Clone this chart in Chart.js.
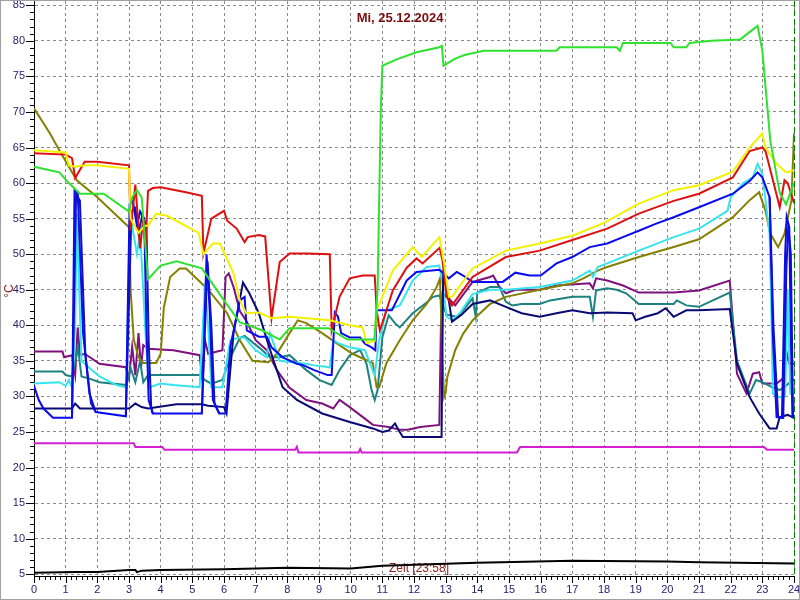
<!DOCTYPE html>
<html>
<head>
<meta charset="utf-8">
<script src="https://cdn.jsdelivr.net/npm/chart.js@4.4.1/dist/chart.umd.min.js"></script>
<style>
  body { margin: 0; background: #fff; }
  canvas { display: block; }
</style>
</head>
<body>
<canvas id="chart" width="800" height="600"></canvas>
<script>
// [hour, °C] pairs
const black = [[0,5.2],[1.3,5.3],[2,5.3],[3,5.6],[3.2,5.6],[3.25,5.3],[3.4,5.5],[4,5.6],[6,5.7],[8,5.9],[10,5.8],[11,6.2],[14,6.6],[17,6.9],[20,6.8],[21,6.7],[24,6.5]];
const magenta = [[0,23.4],[3.15,23.4],[3.2,22.9],[4.05,22.9],[4.12,22.5],[8.25,22.5],[8.3,22.9],[8.35,22.1],[10.25,22.1],[10.3,22.6],[10.35,22.1],[15.25,22.1],[15.35,22.9],[23.05,22.9],[23.15,22.5],[24,22.5]];
const green = [[0,62.3],[0.5,61.8],[0.8,61.5],[1.1,60],[1.45,58.5],[2.2,58.5],[3.0,56],[3.1,58],[3.25,59],[3.4,58],[3.6,46.5],[4.0,48.4],[4.5,49],[5.3,48],[6.0,43.5],[6.5,40.4],[6.65,40.2],[7.2,39.3],[7.76,38],[8.07,39.6],[9.3,39.6],[9.9,38],[10.75,38],[10.85,45],[10.95,70],[11.0,76.5],[11.45,77.4],[12.08,78.4],[12.8,79.1],[12.88,79.3],[12.93,76.5],[13.3,77.5],[13.6,78],[14.2,78.6],[16.5,78.6],[16.6,79.1],[18.4,79.1],[18.5,78.6],[18.6,79.7],[20.1,79.7],[20.2,79.1],[20.6,79.1],[20.7,79.7],[21.4,80],[22.3,80.2],[22.85,82.1],[23.0,78.6],[23.25,66],[23.55,58.6],[23.75,57],[24,60]];
const red = [[0,64.2],[1.0,64],[1.2,63.5],[1.3,60.7],[1.6,63],[2.0,63],[3.0,62.5],[3.05,53.3],[3.2,59.8],[3.35,50.8],[3.45,55],[3.52,51],[3.6,58.9],[3.75,59.3],[4.0,59.4],[4.8,58.7],[5.3,58.2],[5.35,50.1],[5.6,55],[6.0,56.1],[6.1,54.7],[6.4,53.6],[6.65,51.7],[6.75,52.4],[7.1,52.7],[7.3,52.5],[7.5,41],[7.76,48.9],[8.07,50.1],[8.6,50.1],[9.34,50],[9.4,39.3],[9.65,44],[9.97,46.6],[10.38,47],[10.76,47],[10.82,42.1],[10.92,39.3],[11.0,40.3],[11.33,44.9],[11.77,48.1],[12.08,49.4],[12.27,48.7],[12.81,50.9],[12.9,49.1],[13.03,44],[13.2,42.8],[13.85,46.8],[14.9,49.6],[15.97,50.5],[17.0,52],[18.1,53.6],[19.1,55.7],[20.2,57.5],[21.0,58.5],[22.07,60.8],[22.6,64.5],[23.0,65],[23.1,64.5],[23.55,56.6],[23.7,60.4],[23.8,60],[24,57.2]];
const yellow = [[0,64.6],[1.0,64.3],[1.1,62.5],[1.3,62.3],[1.6,62.5],[2.0,62.5],[3.0,62],[3.05,55],[3.3,53],[3.5,54],[3.6,54],[3.86,55.7],[4.2,55.4],[5.2,53],[5.35,50],[5.65,51.5],[5.87,51.5],[6.3,47.3],[6.5,43.5],[6.7,41.7],[7.1,41.8],[7.5,41],[8.07,41.2],[9.34,40.7],[9.97,40],[10.38,39.7],[10.5,37.5],[10.76,37.8],[10.82,42.1],[11.0,44],[11.33,47.7],[11.96,51],[12.25,49.6],[12.8,52.4],[12.95,48.7],[13.1,44],[13.2,44],[13.85,48],[14.9,50.5],[15.97,51.5],[17,52.6],[18,54.4],[19.1,57.1],[20.2,59],[21,59.7],[22.07,61.6],[22.6,65],[23.0,67],[23.1,65],[23.45,62.7],[23.75,61.5],[24,61.8]];
const blue = [[0,31.5],[0.15,29.5],[0.3,28.3],[0.6,27],[1.2,27],[1.28,59],[1.38,58.7],[1.55,38.9],[1.75,30.4],[1.95,27.8],[2.9,27.2],[3.02,57],[3.12,57.5],[3.25,54],[3.35,56],[3.48,55],[3.55,40],[3.62,29.5],[3.75,27.6],[5.3,27.6],[5.45,50],[5.55,42],[5.65,29.5],[5.85,27.6],[6.05,27.6],[6.2,37],[6.5,43.5],[6.65,44],[6.72,39.3],[7.1,38.4],[7.35,38.4],[7.5,36.9],[7.85,35.5],[8.3,34.6],[8.5,34.4],[8.85,33.7],[9.27,33],[9.4,33],[9.5,41.8],[9.6,41.2],[9.7,38.9],[9.97,38.3],[10.3,38.3],[10.45,37.4],[10.66,36.9],[10.78,36.5],[10.82,42.1],[11.3,42.1],[11.77,46.3],[12.08,47.5],[12.8,47.8],[13.1,46.6],[13.35,47.5],[13.55,47],[13.85,46.1],[14.8,46.1],[15.2,47.4],[15.65,47],[16.0,47],[16.5,48.7],[17,49.6],[17.55,51],[18.1,51.5],[18.6,52.4],[19.1,53.3],[19.65,54.3],[20.2,55.2],[21,56.6],[22.07,58.5],[22.6,60.3],[22.85,61.5],[23.0,60.8],[23.23,58],[23.3,45],[23.33,38.9],[23.45,27.1],[23.62,27],[23.72,50],[23.77,55.2],[23.85,53.8],[23.9,38.9],[23.95,27.1],[24,27]];
// second blue sensor, only visible where it leaves the first one (null = gap)
const blue2 = [[1.2,27],[1.33,58.5],[1.45,57.5],[1.62,36],[1.8,29],[1.95,27.8],[2.0,null],[2.9,27.2],[3.08,56],[3.2,56.5],[3.3,53],[3.42,55.5],[3.55,54],[3.62,38],[3.7,28.5],[3.75,27.6],[3.8,null],[5.3,27.6],[5.48,49],[5.6,40],[5.7,29],[5.85,27.6],[5.9,null],[23.23,58],[23.35,40],[23.5,27.1],[23.66,27],[23.76,48],[23.82,54],[23.9,50],[23.97,27.1],[24,27]];
const navy = [[0,28.3],[1.2,28.3],[1.3,29],[1.45,28.3],[3.0,28.3],[3.2,29],[3.4,28.5],[3.6,28.3],[4.5,28.9],[5.3,28.9],[5.5,28.7],[6.0,28.5],[6.08,27.6],[6.3,38.9],[6.6,46],[6.8,44.5],[7.1,41.7],[7.35,38],[7.6,34.6],[7.85,31.3],[8.3,29.5],[9.1,27.6],[9.97,26.4],[10.7,25.5],[11.0,25],[11.2,25.2],[11.4,26.2],[11.55,25],[11.65,24.3],[12.8,24.3],[12.87,24.3],[12.92,47],[13.05,45],[13.2,40.5],[13.5,41.5],[13.85,43],[14.4,43.5],[14.9,42.6],[15.4,41.7],[15.97,41.2],[16.5,41.7],[17,42.1],[17.55,41.7],[18.1,41.8],[18.9,41.7],[19.0,40.7],[19.3,41.2],[19.7,41.7],[19.95,42.4],[20.2,41.2],[20.6,42.1],[21,42.1],[21.97,42.3],[22.2,34.6],[22.6,29.9],[22.9,27.6],[23.23,25.5],[23.45,25.5],[23.55,27.1],[23.8,27.4],[24,27]];
const cyan = [[0,31.8],[0.8,32],[1.0,31.5],[1.1,32.3],[1.2,31.3],[1.3,40],[1.35,55.7],[1.5,35],[1.75,34],[2.07,32.8],[2.6,31.6],[2.92,31.3],[3.02,52.9],[3.1,54],[3.25,50],[3.35,53],[3.45,45],[3.55,36.5],[3.65,31.3],[4.0,31.8],[4.4,31.6],[5.23,31.3],[5.4,45.9],[5.5,40],[5.6,31.3],[5.95,31.3],[6.2,37.9],[6.5,38.3],[6.65,38.3],[6.82,37.4],[7.0,36.5],[7.35,35.5],[7.45,38.9],[7.76,35],[8.6,34.6],[8.8,34.4],[9.34,34.1],[9.45,37.9],[9.65,37.4],[9.97,36.9],[10.45,36.5],[10.7,33.6],[10.76,33],[10.9,37.9],[11.13,42.1],[11.55,42.8],[11.96,46.3],[12.4,48.2],[12.8,48.4],[12.9,45.9],[13.03,41.2],[13.2,40.7],[13.45,41.7],[13.85,44.4],[14.4,45],[14.9,45],[15.97,45.4],[17,46.3],[17.55,47.7],[17.65,46.8],[17.8,48.2],[18.1,48.7],[19.1,50.5],[20.2,52.4],[21,53.6],[21.9,56.1],[22.0,58],[22.4,60],[22.7,60.8],[22.85,62.7],[23.0,61.3],[23.1,57.6],[23.23,52.9],[23.3,38.9],[23.33,30.4],[23.55,29.9],[23.72,30],[23.8,45],[23.88,30.4],[24,30.4]];
const olive = [[0,70.5],[0.5,67],[0.8,64.6],[1.35,60.4],[2,58],[3,53.8],[3.05,45],[3.15,38],[3.3,35.5],[3.45,34.7],[3.86,34.7],[4.0,36],[4.1,42.5],[4.3,46.8],[4.6,48],[4.8,48],[5.2,46.3],[5.5,45],[6.1,41.7],[6.5,37.9],[6.9,35],[7.4,34.8],[7.67,36],[8.07,38.9],[8.33,40.7],[8.6,40.3],[9.1,38.9],[9.55,37.5],[10.06,36],[10.7,34.7],[10.82,31.3],[10.9,31.3],[11.13,34.7],[11.55,37.9],[11.96,40.7],[12.4,43],[12.72,45.4],[12.82,46.6],[12.9,35],[12.95,29.9],[13.0,30.5],[13.05,32.7],[13.3,36.5],[13.55,38.8],[13.85,40.7],[14.4,43],[14.9,44],[15.97,45],[17,45.9],[17.35,46.6],[17.8,47.7],[18.1,48.2],[19.1,49.6],[20.2,51],[21,52.1],[22.07,55.2],[22.6,57.6],[22.9,58.7],[23.1,56.1],[23.25,52.9],[23.5,51],[23.7,52.9],[23.92,57.6],[24,67]];
const teal = [[0,33.5],[0.9,33.5],[1.0,33],[1.2,32.8],[1.39,36.8],[1.5,32.8],[1.75,32.5],[2.07,32],[2.92,31.6],[3.05,34],[3.2,32],[3.35,35],[3.45,32],[3.6,33],[5.23,33],[5.4,32.3],[5.6,31.8],[5.95,32.3],[6.2,35.5],[6.5,38.2],[6.65,38.5],[6.82,37.9],[7.1,36.9],[7.45,35.5],[7.76,35.5],[8.07,35.8],[8.6,33.7],[9.02,32.3],[9.4,31.6],[9.65,33.7],[9.97,35.8],[10.3,36.5],[10.5,34.6],[10.66,30.9],[10.76,29.5],[10.85,30.9],[11.0,38.3],[11.2,41.4],[11.4,40.3],[11.55,39.7],[11.96,41.7],[12.4,43.2],[12.6,44],[12.8,44.2],[12.9,43],[13.03,41.5],[13.35,41.2],[13.55,42.1],[13.85,43.8],[13.95,41.2],[14.0,44.6],[14.4,45.4],[14.7,45.4],[14.9,43.3],[15.1,42.8],[15.4,43],[15.97,43],[16.3,43.5],[17.0,44],[17.55,44],[17.65,41.2],[17.75,44.9],[18.1,45.2],[18.4,45],[18.7,44.5],[19.1,43],[20.2,43],[20.3,43.5],[20.6,42.8],[21.0,42.6],[21.97,44.6],[22.2,35],[22.6,30.4],[22.8,32.3],[23.0,32],[23.3,31.3],[23.55,30.9],[23.75,31.5],[23.95,32.3],[24,32.3]];
const purple = [[0,36.3],[0.9,36.3],[0.95,35.5],[1.2,35.8],[1.3,33],[1.38,39.7],[1.45,35.8],[1.6,36],[2.07,34.6],[2.9,34.1],[3.0,32.5],[3.1,37],[3.2,33],[3.3,38.9],[3.38,34],[3.45,37.2],[3.6,36.7],[4.4,36.5],[5.23,35.8],[5.3,33],[5.4,37.9],[5.5,36],[5.95,36.5],[6.05,46.8],[6.15,47.3],[6.3,45.4],[6.5,42],[6.72,40.5],[7.0,37.9],[7.35,36.5],[7.67,33.7],[8.07,31.2],[8.6,29.5],[9.1,29],[9.45,28.3],[9.65,29.5],[9.97,28.5],[10.5,26.7],[10.7,26],[11.2,25.7],[11.55,25.3],[11.8,25.3],[12.2,25.7],[12.8,26],[12.85,40],[12.9,44.5],[13.05,44],[13.3,42.8],[13.85,46.1],[14.4,46.8],[14.5,47],[14.7,45.4],[14.9,44.5],[15.2,45],[15.97,45],[16.5,45.6],[17.55,45.9],[17.65,45.2],[17.75,46.6],[18.1,46.3],[18.6,45.6],[19.1,44.6],[20.2,44.6],[21,44.9],[21.97,46.3],[22.2,33.2],[22.5,30.4],[22.7,33.2],[22.9,33.4],[23.0,31.8],[23.45,31.8],[23.65,32.5],[23.75,36.5],[23.85,34.6],[24,34.6]];

const yTicks = [5,10,15,20,25,30,35,40,45,50,55,60,65,70,75,80,85];
const titleText = 'Mi, 25.12.2024';
const xLabelText = 'Zeit [23:58]';
const yLabelText = '°C';

const series = [
  { data: black, color: '#000000' },
  { data: green, color: '#2ee22e' },
  { data: yellow, color: '#f2f200' },
  { data: red, color: '#dd1010' },
  { data: magenta, color: '#d41ed4' },
  { data: blue, color: '#0a0aee' },
  { data: blue2, color: '#1414b4' },
  { data: navy, color: '#0a0a74' },
  { data: cyan, color: '#36e4ee' },
  { data: olive, color: '#868000' },
  { data: teal, color: '#1e8282' },
  { data: purple, color: '#7e127e' }
];

const decor = {
  id: 'decor',
  beforeDraw(chart) {
    const ctx = chart.ctx;
    ctx.save();
    ctx.fillStyle = '#fff';
    ctx.fillRect(0, 0, chart.width, chart.height);
    ctx.restore();
  },
  beforeDatasetsDraw(chart) {
    const ctx = chart.ctx;
    ctx.save();
    ctx.fillStyle = '#96201e';
    ctx.font = '12px "Liberation Sans", Arial, sans-serif';
    ctx.textAlign = 'center';
    ctx.textBaseline = 'middle';
    ctx.fillText(xLabelText, 419, 569);
    ctx.restore();
  },
  afterDraw(chart) {
    const ctx = chart.ctx;
    const a = chart.chartArea;
    const xs = chart.scales.x, ys = chart.scales.y;
    ctx.save();
    // minor / major tick marks
    ctx.strokeStyle = '#000';
    ctx.lineWidth = 1;
    ctx.beginPath();
    for (let v = 5; v <= 85; v++) {
      const y = Math.round(ys.getPixelForValue(v)) + 0.5;
      const len = v % 5 === 0 ? 8 : 4;
      ctx.moveTo(a.left - len, y);
      ctx.lineTo(a.left, y);
    }
    for (let k = 0; k <= 144; k++) {
      const x = Math.round(xs.getPixelForValue(k / 6)) + 0.5;
      const len = k % 6 === 0 ? 7 : 4;
      ctx.moveTo(x, a.bottom);
      ctx.lineTo(x, a.bottom + len);
    }
    ctx.stroke();
    // current time marker
    ctx.strokeStyle = '#007a00';
    ctx.setLineDash([6, 3]);
    ctx.beginPath();
    const xe = Math.round(xs.getPixelForValue(24)) + 0.5;
    ctx.moveTo(xe, a.top);
    ctx.lineTo(xe, a.bottom);
    ctx.stroke();
    ctx.setLineDash([]);
    // title
    ctx.fillStyle = '#7a0c0c';
    ctx.font = 'bold 13px "Liberation Sans", Arial, sans-serif';
    ctx.textAlign = 'center';
    ctx.textBaseline = 'middle';
    ctx.fillText(titleText, 400, 18);
    // y label
    ctx.save();
    ctx.translate(10, 291);
    ctx.rotate(-Math.PI / 2);
    ctx.fillStyle = '#8a1a1a';
    ctx.font = '12px "Liberation Sans", Arial, sans-serif';
    ctx.fillText(yLabelText, 0, 0);
    ctx.restore();
    // frame
    ctx.strokeStyle = '#a0a0a0';
    ctx.strokeRect(0.5, 0.5, chart.width - 1, chart.height - 1);
    ctx.restore();
  }
};

new Chart(document.getElementById('chart'), {
  type: 'scatter',
  data: {
    datasets: series.map(s => ({
      data: s.data.map(p => ({ x: p[0], y: p[1] })),
      borderColor: s.color,
      backgroundColor: s.color,
      borderWidth: 2,
      showLine: true,
      spanGaps: false,
      pointRadius: 0,
      tension: 0
    }))
  },
  options: {
    responsive: false,
    animation: false,
    layout: { autoPadding: false, padding: { top: 1, right: 6, left: 0, bottom: 0 } },
    plugins: { legend: { display: false }, tooltip: { enabled: false } },
    scales: {
      x: {
        type: 'linear',
        min: 0,
        max: 24,
        afterFit: s => { s.height = 24; s.paddingLeft = 0; s.paddingRight = 0; },
        ticks: { stepSize: 1, padding: 7, maxRotation: 0, color: '#24246e', font: { size: 11, family: '"Liberation Sans", Arial, sans-serif' } },
        grid: { color: '#8a8a8a', drawTicks: false },
        border: { display: true, color: '#000', width: 1, dash: [3, 3] }
      },
      y: {
        type: 'linear',
        min: 4.75,
        max: 85.6,
        afterFit: s => { s.width = 34; s.paddingTop = 0; s.paddingBottom = 0; },
        afterBuildTicks: s => { s.ticks = yTicks.map(v => ({ value: v })); },
        ticks: { padding: 9, color: '#24246e', font: { size: 11, family: '"Liberation Sans", Arial, sans-serif' } },
        grid: { color: '#8a8a8a', drawTicks: false },
        border: { display: true, color: '#000', width: 1, dash: [3, 3] }
      }
    }
  },
  plugins: [decor]
});
</script>
</body>
</html>
